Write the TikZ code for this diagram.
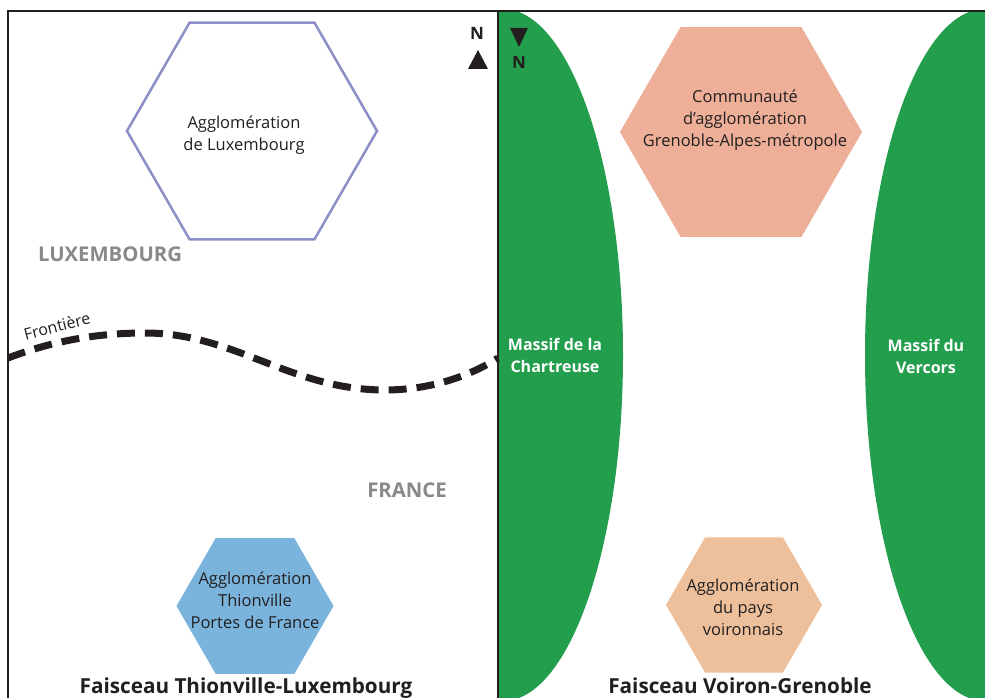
\documentclass[tikz,border=0pt]{standalone}
\usepackage{fontspec}
\setmainfont{Open Sans}
\usetikzlibrary{shapes.geometric}
\definecolor{massif}{RGB}{34,158,76}
\definecolor{txt}{RGB}{35,31,32}
\definecolor{luxline}{RGB}{140,143,200}
\definecolor{thion}{RGB}{122,180,220}
\definecolor{greno}{RGB}{238,175,152}
\definecolor{voir}{RGB}{237,192,155}
\definecolor{greytxt}{RGB}{137,137,137}
\begin{document}
\begin{tikzpicture}[x=1pt,y=-1pt,
  hexa/.style={regular polygon, regular polygon sides=6, inner sep=0pt, outer sep=0pt},
  lbl/.style={align=center, text=txt, inner sep=0pt, font=\fontsize{16.5}{22}\selectfont},
  country/.style={text=greytxt, inner sep=0pt, font=\fontsize{20.3}{22}\selectfont\bfseries},
  title/.style={text=txt, inner sep=0pt, font=\fontsize{20.7}{24}\selectfont\bfseries},
  massiflbl/.style={align=center, text=white, inner sep=0pt, font=\fontsize{16}{22}\selectfont\bfseries},
  northtxt/.style={text=txt, inner sep=0pt, font=\fontsize{17}{18}\selectfont\bfseries},
  frame/.style={draw=txt, line width=2pt},
  border/.style={draw=txt, line width=7pt, dash pattern=on 18pt off 10pt}]
\useasboundingbox (0,0) rectangle (985,698);
\fill[white] (0,0) rectangle (985,698);

% green massifs
\begin{scope}
  \clip (498,11) rectangle (985,698);
  \fill[massif] (503,355) ellipse [x radius=120, y radius=346];
  \fill[massif] (985,355) ellipse [x radius=120, y radius=346];
\end{scope}

% frame
\coordinate (tl) at (8,11);
\coordinate (tr) at (985,11);
\coordinate (bl) at (8,698);
\coordinate (dt) at (498,11);
\coordinate (db) at (498,698);
\draw[frame] (bl) -- (tl) -- (tr);
\draw[draw=txt, line width=1.5pt] (dt) -- (db);

% hexagons
\node[hexa, draw=luxline, line width=2.5pt, minimum size=250] (lux) at (252,131) {};
\node[hexa, fill=thion, minimum size=157] (thi) at (255,606) {};
\node[hexa, fill=greno, minimum size=242] (gre) at (741,132) {};
\node[hexa, fill=voir, minimum size=156] (voi) at (744,605) {};

\node[lbl] (luxt) at (244,135) {Agglomération\\de Luxembourg};
\node[lbl] (thit) at (255,600) {Agglomération\\Thionville\\Portes de France};
\node[lbl] (gret) at (745,120) {Communauté\\d’agglomération\\Grenoble-Alpes-métropole};
\node[lbl] (voit) at (743,607) {Agglomération\\du pays\\voironnais};

% countries
\node[country] (luxc) at (110,254) {LUXEMBOURG};
\node[country] (frc) at (407,490) {FRANCE};

% border
\coordinate (b0) at (8,358);
\coordinate (b1) at (145,333);
\coordinate (b2) at (385,390);
\coordinate (b3) at (498,358);
\draw[border] (b0) .. controls (55,340) and (100,333) .. (b1)
  .. controls (235,333) and (290,390) .. (b2)
  .. controls (430,390) and (470,376) .. (b3);
\node[text=txt, inner sep=0pt, rotate=14, font=\fontsize{16}{18}\selectfont] (front) at (57,326) {Frontière};

% massif labels
\node[massiflbl] (chart) at (555,355) {Massif de la\\Chartreuse};
\node[massiflbl] (verc) at (926,356) {Massif du\\Vercors};

% north arrows
\node[northtxt] (nl) at (477,33) {N};
\coordinate (nla) at (478,50);
\coordinate (nlb) at (468,69);
\coordinate (nlc) at (488,69);
\fill[txt] (nla) -- (nlb) -- (nlc) -- cycle;
\coordinate (nra) at (510,28);
\coordinate (nrb) at (528,28);
\coordinate (nrc) at (519,47);
\fill[txt] (nra) -- (nrb) -- (nrc) -- cycle;
\node[northtxt] (nr) at (519,62) {N};

% titles
\node[title, anchor=base] (t1) at (246,693) {Faisceau Thionville-Luxembourg};
\node[title, anchor=base] (t2) at (740,693) {Faisceau Voiron-Grenoble};
\end{tikzpicture}
\end{document}
